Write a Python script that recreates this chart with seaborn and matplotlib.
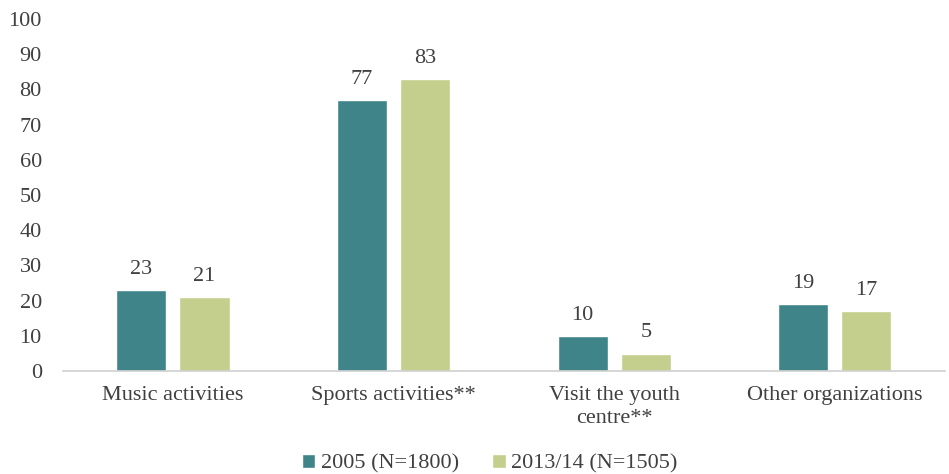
import pandas as pd
import matplotlib
matplotlib.use("Agg")
import matplotlib.pyplot as plt
import seaborn as sns

categories = ["Music activities", "Sports activities**", "Visit the youth\ncentre**", "Other organizations"]
series_names = ["2005 (N=1800)", "2013/14 (N=1505)"]
values_2005 = [23, 77, 10, 19]
values_2013 = [21, 83, 5, 17]

df = pd.DataFrame({
    "category": categories * 2,
    "series": [series_names[0]] * 4 + [series_names[1]] * 4,
    "value": values_2005 + values_2013,
})

sns.set_style("white")
plt.rcParams["font.family"] = ["Liberation Serif", "DejaVu Serif"]
text_color = "#404040"
fs = 16

fig = plt.figure(figsize=(9.49, 4.74), dpi=100)
ax = fig.add_axes([0.066, 0.217, 0.93, 0.743])

palette = {series_names[0]: "#3f8488", series_names[1]: "#c4ce8d"}
sns.barplot(data=df, x="category", y="value", hue="series", palette=palette,
            width=0.572, gap=0.206, ax=ax, saturation=1, legend=True)

for cont in ax.containers:
    ax.bar_label(cont, padding=8, fontsize=fs, color=text_color)

ax.set_ylim(0, 100)
ax.set_yticks(range(0, 101, 10))
ax.set_xlim(-0.5, 3.5)
ax.set_xlabel("")
ax.set_ylabel("")
ax.tick_params(axis="both", length=0, labelsize=fs, colors=text_color)
ax.tick_params(axis="x", pad=11)
ax.tick_params(axis="y", pad=15)
for lab in ax.get_xticklabels():
    lab.set_linespacing(1.25)

for side in ["top", "right", "left"]:
    ax.spines[side].set_visible(False)
ax.spines["bottom"].set_color("#d0d0d0")
ax.spines["bottom"].set_linewidth(1.2)

handles, labels = ax.get_legend_handles_labels()
ax.get_legend().remove()
leg = fig.legend(handles, labels, loc="center", bbox_to_anchor=(0.516, 0.022), ncol=2,
                 frameon=False, fontsize=fs, handlelength=0.6, handleheight=0.6,
                 handletextpad=0.25, columnspacing=1.5, borderpad=0)
for t in leg.get_texts():
    t.set_color(text_color)

fig.savefig("out.png", dpi=100)
